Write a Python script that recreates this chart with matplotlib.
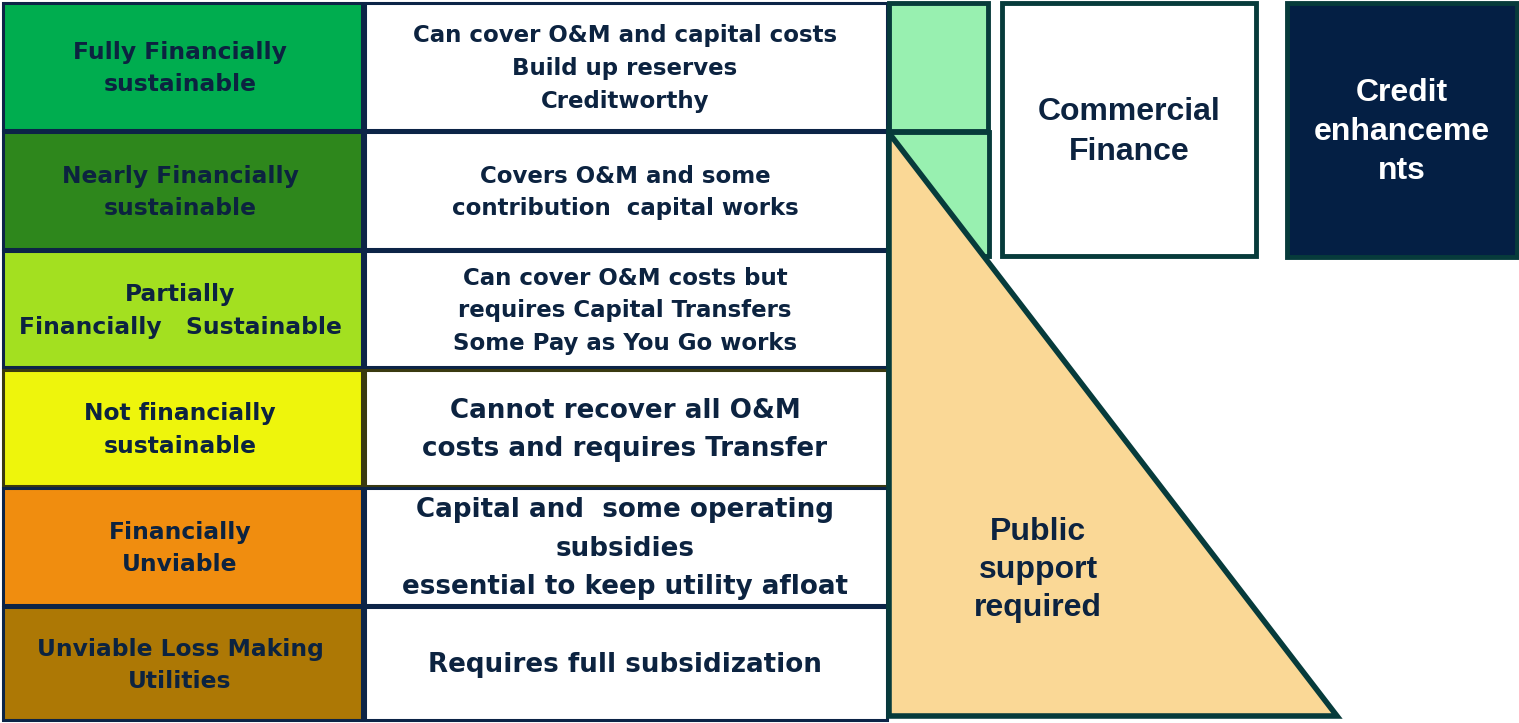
import matplotlib
matplotlib.use("Agg")
import matplotlib.pyplot as plt
from matplotlib.patches import Rectangle, Polygon

# tiers of financial sustainability
tiers = ["Fully Financially\nsustainable",
         "Nearly Financially\nsustainable",
         "Partially\nFinancially   Sustainable",
         "Not financially\nsustainable",
         "Financially\nUnviable",
         "Unviable Loss Making\nUtilities"]
descriptions = ["Can cover O&M and capital costs\nBuild up reserves\nCreditworthy",
                "Covers O&M and some\ncontribution  capital works",
                "Can cover O&M costs but\nrequires Capital Transfers\nSome Pay as You Go works",
                "Cannot recover all O&M\ncosts and requires Transfer",
                "Capital and  some operating\nsubsidies\nessential to keep utility afloat",
                "Requires full subsidization"]
tier_colors = ["#00ad4f", "#2e871c", "#a3e020", "#eef50c", "#f08d0f", "#ad7805"]
edge_colors = ["#0c2447", "#0c2447", "#0c2447", "#3a3a10", "#0c2447", "#0c2447"]
finance_labels = ["Commercial\nFinance", "Credit\nenhanceme\nnts", "Public\nsupport\nrequired"]

NAVY = "#0c2340"
TEAL = "#073b3b"
LIGHT_GREEN = "#98f0b0"
TAN = "#fad896"
DARK = "#041f44"

row_top = [3, 132, 251, 370, 488, 607]
row_bot = [130, 249, 367, 486, 605, 720]

fig = plt.figure(figsize=(15.19, 7.23), dpi=100)
ax = fig.add_axes([0, 0, 1, 1])
ax.set_xlim(0, 1519)
ax.set_ylim(723, 0)
ax.axis("off")

tahoma_like = "DejaVu Sans"
for i in range(len(tiers)):
    t, b = row_top[i], row_bot[i]
    ax.add_patch(Rectangle((3, t), 359, b - t, facecolor=tier_colors[i],
                           edgecolor=edge_colors[i], lw=2.2, zorder=2))
    ax.add_patch(Rectangle((365, t), 522, b - t, facecolor="white",
                           edgecolor=edge_colors[i], lw=2.2, zorder=2))
    ax.text(180, (t + b) / 2 + 2, tiers[i], ha="center", va="center",
            color=NAVY, fontsize=16.8, fontweight="bold", family=tahoma_like,
            linespacing=1.55, zorder=5)
    if i < 3:
        fs, ls = 16.5, 1.55
    else:
        fs, ls = 18.8, 1.63
    ax.text(625, (t + b) / 2 + 2, descriptions[i], ha="center", va="center",
            color=NAVY, fontsize=fs, fontweight="bold", family=tahoma_like,
            linespacing=ls, zorder=5)

# light green boxes and public support triangle
ax.add_patch(Rectangle((889, 132), 100, 124, facecolor=LIGHT_GREEN,
                       edgecolor=TEAL, lw=3.5, zorder=3))
ax.add_patch(Polygon([(889, 133), (889, 716), (1337, 716)], closed=True,
                     facecolor=TAN, edgecolor=TEAL, lw=4, joinstyle="miter", zorder=4))
ax.add_patch(Rectangle((889, 3), 99, 128, facecolor=LIGHT_GREEN,
                       edgecolor=TEAL, lw=3.5, zorder=4))

# finance boxes
ax.add_patch(Rectangle((1002, 3), 254, 253, facecolor="white",
                       edgecolor=TEAL, lw=3.5, zorder=3))
ax.add_patch(Rectangle((1287, 3), 230, 254, facecolor=DARK,
                       edgecolor=TEAL, lw=3.5, zorder=3))

arial_like = "Liberation Sans"
ax.text(1129, 132, finance_labels[0], ha="center", va="center", color=NAVY,
        fontsize=23, fontweight="bold", family=arial_like, linespacing=1.4, zorder=5)
ax.text(1402, 132, finance_labels[1], ha="center", va="center", color="white",
        fontsize=23, fontweight="bold", family=arial_like, linespacing=1.4, zorder=5)
ax.text(1038, 570, finance_labels[2], ha="center", va="center", color=NAVY,
        fontsize=23, fontweight="bold", family=arial_like, linespacing=1.36, zorder=5)

fig.savefig("out.png", dpi=100, facecolor="white")
